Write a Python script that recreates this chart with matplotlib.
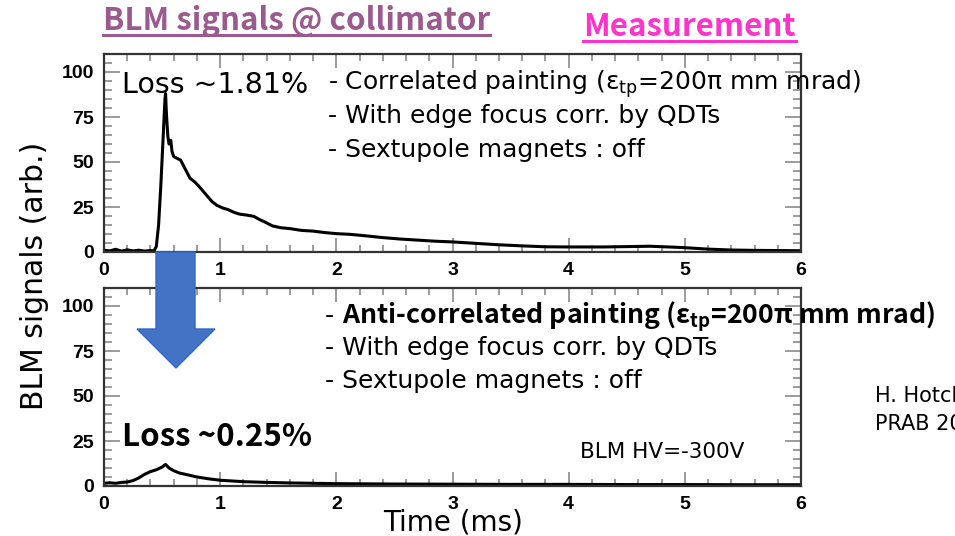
import matplotlib
matplotlib.use("Agg")
import matplotlib.pyplot as plt
from matplotlib.lines import Line2D
from matplotlib.patches import Polygon
from matplotlib.ticker import MultipleLocator

plt.rcParams['font.family'] = ['DejaVu Sans']

# ---------------- data ----------------
top_t = [0.00, 0.05, 0.10, 0.15, 0.20, 0.25, 0.30, 0.35, 0.40, 0.43, 0.45, 0.47,
         0.49, 0.51, 0.525, 0.53, 0.535, 0.54, 0.55, 0.56, 0.575, 0.585, 0.60,
         0.63, 0.66, 0.70, 0.74, 0.78, 0.81, 0.85, 0.89, 0.93, 0.97, 1.02, 1.07,
         1.12, 1.17, 1.23, 1.29, 1.34, 1.39, 1.45, 1.52, 1.60, 1.70, 1.80, 1.90,
         2.00, 2.12, 2.25, 2.40, 2.55, 2.70, 2.85, 3.00, 3.20, 3.40, 3.60, 3.80,
         4.00, 4.30, 4.50, 4.70, 4.90, 5.00, 5.20, 5.40, 5.60, 5.80, 6.00]
top_y = [1.0, 0.6, 1.5, 0.5, 1.2, 0.6, 1.0, 0.5, 0.8, 0.6, 3.0, 15.0,
         38.0, 65.0, 85.0, 88.0, 80.0, 74.0, 64.0, 60.0, 62.0, 56.0, 53.0,
         52.0, 51.0, 46.0, 41.0, 39.0, 37.0, 34.0, 31.0, 28.0, 26.0, 24.5, 23.5,
         22.0, 21.0, 20.5, 19.8, 18.0, 16.5, 14.5, 13.5, 13.0, 12.0, 11.6, 10.8,
         10.2, 9.8, 9.0, 8.0, 7.2, 6.6, 6.0, 5.6, 4.8, 4.0, 3.4, 2.9,
         2.8, 2.8, 3.0, 3.2, 2.7, 2.4, 1.6, 1.1, 0.9, 0.8, 0.7]

bot_t = [0.00, 0.05, 0.10, 0.15, 0.20, 0.25, 0.30, 0.35, 0.40, 0.45, 0.50, 0.53,
         0.56, 0.60, 0.65, 0.70, 0.80, 0.90, 1.00, 1.10, 1.20, 1.40, 1.60, 1.80,
         2.00, 2.50, 3.00, 3.50, 4.00, 4.50, 5.00, 5.50, 6.00]
bot_y = [1.5, 1.8, 1.5, 2.0, 2.2, 3.0, 4.5, 6.5, 8.0, 9.0, 10.5, 12.0,
         10.0, 8.5, 7.2, 6.5, 5.0, 4.0, 3.2, 2.8, 2.4, 2.0, 1.7, 1.5,
         1.3, 1.1, 1.0, 0.9, 0.9, 0.8, 0.8, 0.7, 0.7]

x_ticks = [0, 1, 2, 3, 4, 5, 6]
y_ticks = [0, 25, 50, 75, 100]

title_text = "BLM signals @ collimator"
meas_text = "Measurement"
top_lines = ["- Correlated painting (ε$_\\mathregular{tp}$=200π mm mrad)",
             "- With edge focus corr. by QDTs",
             "- Sextupole magnets : off"]
bot_first = "Anti-correlated painting (ε$_\\mathregular{tp}$=200π mm mrad)"
bot_lines = ["- With edge focus corr. by QDTs",
             "- Sextupole magnets : off"]
loss_top = "Loss ~1.81%"
loss_bot = "Loss ~0.25%"
hv_text = "BLM HV=-300V"
ref_lines = ["H. Hotchi", "PRAB 20"]

# ---------------- figure ----------------
W, H = 955, 536
fig = plt.figure(figsize=(W / 100, H / 100), dpi=100)


def fx(X):
    return X / W


def fy(Y):
    return 1 - Y / H


ax_top = fig.add_axes([fx(104), fy(252), fx(801) - fx(104), fy(54) - fy(252)])
ax_bot = fig.add_axes([fx(104), fy(486), fx(801) - fx(104), fy(288) - fy(486)])

tick_font = dict(family=['Liberation Sans', 'DejaVu Sans'], weight='bold', size=14)
body = ['DejaVu Sans']
head = ['Noto Sans CJK JP', 'DejaVu Sans']

for ax, t, y in ((ax_top, top_t, top_y), (ax_bot, bot_t, bot_y)):
    ax.plot(t, y, color='black', lw=2.2, solid_joinstyle='round')
    ax.set_xlim(0, 6)
    ax.set_ylim(0, 110)
    ax.set_xticks(x_ticks)
    ax.set_yticks(y_ticks)
    ax.xaxis.set_minor_locator(MultipleLocator(0.2))
    ax.yaxis.set_minor_locator(MultipleLocator(5))
    ax.tick_params(axis='both', which='both', direction='in', top=True, right=True,
                   color='#8a8a8a', width=1.2)
    ax.tick_params(axis='x', which='major', length=10, pad=7)
    ax.tick_params(axis='x', which='minor', length=5)
    ax.tick_params(axis='y', which='major', length=11.5, pad=7)
    ax.tick_params(axis='y', which='minor', length=5.8)
    ax.set_xticklabels([str(v) for v in x_ticks], fontdict=tick_font)
    ax.set_yticklabels([str(v) for v in y_ticks], fontdict=tick_font)
    for s in ax.spines.values():
        s.set_color('#333333')
        s.set_linewidth(1.6)

# ---------------- texts ----------------
t_title = fig.text(fx(103), fy(30), title_text, color='#9B5A8E', fontsize=22.5,
                   weight='bold', family=head, va='baseline', ha='left')
t_meas = fig.text(fx(583), fy(36), meas_text, color='#FF33CC', fontsize=22.5,
                  weight='bold', family=head, va='baseline', ha='left')

fig.text(fx(122), fy(93), loss_top, fontsize=20.5, family=body, va='baseline', ha='left')
for i, s in enumerate(top_lines):
    fig.text(fx(328), fy(90 + 33.3 * i), s, fontsize=18, family=body,
             va='baseline', ha='left')

t_dash = fig.text(fx(325), fy(323), "- ", fontsize=18, family=body,
                  va='baseline', ha='left')
for i, s in enumerate(bot_lines):
    fig.text(fx(325), fy(355 + 33 * i), s, fontsize=18, family=body,
             va='baseline', ha='left')

fig.text(fx(122), fy(446), loss_bot, fontsize=22.5, weight='bold', family=head,
         va='baseline', ha='left')
fig.text(fx(580), fy(458), hv_text, fontsize=15.5, family=body, va='baseline', ha='left')
fig.text(fx(875), fy(402), ref_lines[0], fontsize=15, family=body, va='baseline', ha='left')
fig.text(fx(875), fy(430), ref_lines[1], fontsize=15, family=body, va='baseline', ha='left')

fig.text(fx(35), fy(276), "BLM signals (arb.)", fontsize=21.5, family=body, rotation=90,
         va='center', ha='center')
fig.text(fx(453), fy(530), "Time (ms)", fontsize=20, family=body, va='baseline',
         ha='center')

# bold part following the dash on the same baseline
renderer = fig.canvas.get_renderer()
bb = t_dash.get_window_extent(renderer).transformed(fig.transFigure.inverted())
fig.text(bb.x1, fy(323), bot_first, fontsize=19.2, weight='bold', family=head,
         va='baseline', ha='left')

# underlines for headings
for t, col, yl in ((t_title, '#9B5A8E', 35), (t_meas, '#FF33CC', 40.5)):
    b = t.get_window_extent(renderer).transformed(fig.transFigure.inverted())
    fig.add_artist(Line2D([b.x0, b.x1], [fy(yl), fy(yl)], color=col, lw=2.2,
                          transform=fig.transFigure))

# ---------------- blue arrow ----------------
arrow_px = [(156, 252), (195, 252), (195, 329), (215, 329), (176, 368),
            (137, 329), (156, 329)]
arrow = Polygon([(fx(X), fy(Y)) for X, Y in arrow_px], closed=True,
                facecolor='#4472C4', edgecolor='#2F68C8', lw=1.0,
                transform=fig.transFigure, zorder=10)
fig.add_artist(arrow)

fig.savefig("out.png", dpi=100)
